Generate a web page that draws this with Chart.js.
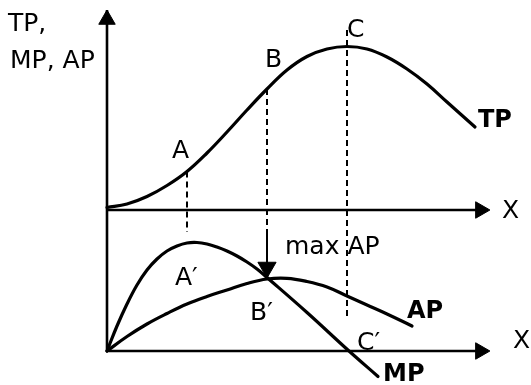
<!DOCTYPE html>
<html>
<head>
<meta charset="utf-8">
<script src="https://cdn.jsdelivr.net/npm/chart.js@4.4.1/dist/chart.umd.min.js"></script>
<style>
  html, body { margin: 0; padding: 0; background: #ffffff; }
  canvas { display: block; }
</style>
</head>
<body>
<canvas id="c" width="531" height="385"></canvas>
<script>
// ---- Data (input quantity on x; TP on upper panel, MP/AP on lower panel) ----
const TP_X = [0, 0.5, 1.0, 1.5, 2.0, 2.5, 3.0, 3.5, 4.0, 4.5, 5.0, 5.5, 6.0, 6.5, 7.0, 7.5, 8.0, 8.5, 9.2];
const TP_Y = [0.25, 0.6, 1.35, 2.45, 3.85, 5.7, 7.8, 10.0, 12.1, 14.0, 15.35, 16.1, 16.35, 16.1, 15.3, 14.1, 12.6, 10.8, 8.3];

const MP_X = [0, 0.25, 0.5, 0.75, 1.0, 1.25, 1.5, 1.75, 2.0, 2.25, 2.5, 2.75, 3.0, 3.25, 3.5, 3.75, 4.0, 5.0, 6.05, 6.775];
const MP_Y = [0, 2.5, 4.7, 6.6, 8.1, 9.2, 10.0, 10.5, 10.8, 10.85, 10.7, 10.4, 10.0, 9.5, 8.9, 8.2, 7.35, 3.85, 0, -2.55];

const AP_X = [0, 0.5, 1.0, 1.5, 2.0, 2.5, 3.0, 3.5, 4.0, 4.5, 5.0, 5.5, 6.0, 6.5, 7.0, 7.625];
const AP_Y = [0, 1.45, 2.7, 3.75, 4.7, 5.45, 6.1, 6.75, 7.2, 7.27, 6.95, 6.4, 5.5, 4.6, 3.7, 2.5];

// key input levels: A (inflection), B (max AP), C (max TP)
const X_A = 2.0, X_B = 4.0, X_C = 6.0;
const AXIS_X_END = 9.575;
const AXIS_Y_TOP = 34.1;

// text labels: [text, x, y, axis, bold]
const LABELS = [
  ["TP,", -2.475, 17.9, "yTP", false],
  ["MP, AP", -2.425, 14.2, "yTP", false],
  ["A", 1.625, 5.2, "yTP", false],
  ["B", 3.95, 14.3, "yTP", false],
  ["C", 6.0, 17.3, "yTP", false],
  ["TP", 9.275, 8.3, "yTP", true],
  ["X", 9.875, -0.8, "yTP", false],
  ["max AP", 4.45, 9.7, "yQ", false],
  ["A\u2032", 1.7, 6.6, "yQ", false],
  ["B\u2032", 3.575, 3.1, "yQ", false],
  ["AP", 7.5, 3.3, "yQ", true],
  ["C\u2032", 6.25, 0.1, "yQ", false],
  ["X", 10.15, 0.3, "yQ", false],
  ["MP", 6.9, -3.0, "yQ", true]
];

const pts = (xs, ys) => xs.map((x, i) => ({ x, y: ys[i] }));

const curve = (data, axis) => ({
  data, yAxisID: axis, showLine: true, borderColor: "#000", borderWidth: 3.2,
  pointRadius: 0, tension: 0.4, fill: false, borderCapStyle: "round", borderJoinStyle: "round"
});
const seg = (data, axis, w, dash) => ({
  data, yAxisID: axis, showLine: true, borderColor: "#000", borderWidth: w,
  borderDash: dash || [], pointRadius: 0, tension: 0, fill: false
});
const head = (x, y, axis, rot, r) => ({
  data: [{ x, y }], yAxisID: axis, showLine: false, pointStyle: "triangle",
  pointRadius: r || 9.5, pointRotation: rot, backgroundColor: "#000", borderColor: "#000",
  borderWidth: 1
});

const tpAt = (x) => TP_Y[TP_X.indexOf(x)];

const datasets = [
  // axes
  seg([{ x: 0, y: 0 }, { x: 0, y: AXIS_Y_TOP }], "yQ", 2.6),
  seg([{ x: 0, y: 0 }, { x: AXIS_X_END - 0.3, y: 0 }], "yTP", 2.6),
  seg([{ x: 0, y: 0 }, { x: AXIS_X_END - 0.3, y: 0 }], "yQ", 2.6),
  head(0, AXIS_Y_TOP - 0.95, "yQ", 0),
  head(AXIS_X_END - 0.24, 0, "yTP", 90),
  head(AXIS_X_END - 0.24, 0, "yQ", 90),
  // dashed guide lines
  seg([{ x: X_A, y: tpAt(X_A) }, { x: X_A, y: -2.2 }], "yTP", 2, [6, 4]),
  seg([{ x: X_B, y: tpAt(X_B) }, { x: X_B, y: -2.0 }], "yTP", 2, [6, 4]),
  seg([{ x: X_B, y: 12.1 }, { x: X_B, y: 8.8 }], "yQ", 2),
  head(X_B, 8.35, "yQ", 180, 10.5),
  seg([{ x: X_C, y: 18.0 }, { x: X_C, y: -10.8 }], "yTP", 2, [6, 4]),
  // curves
  curve(pts(TP_X, TP_Y), "yTP"),
  curve(pts(MP_X, MP_Y), "yQ"),
  curve(pts(AP_X, AP_Y), "yQ")
];

const labelPlugin = {
  id: "labels",
  beforeDraw(chart) {
    const ctx = chart.ctx;
    ctx.save();
    ctx.fillStyle = "#fff";
    ctx.fillRect(0, 0, chart.width, chart.height);
    ctx.restore();
  },
  afterDatasetsDraw(chart) {
    const ctx = chart.ctx;
    const xs = chart.scales.x;
    ctx.save();
    ctx.fillStyle = "#000";
    ctx.textAlign = "left";
    ctx.textBaseline = "alphabetic";
    LABELS.forEach(([t, x, y, ax, bold]) => {
      ctx.font = (bold ? "bold 24px" : "25px") + " 'DejaVu Sans', Verdana, sans-serif";
      ctx.fillText(t, xs.getPixelForValue(x), chart.scales[ax].getPixelForValue(y));
    });
    ctx.restore();
  }
};

new Chart(document.getElementById("c"), {
  type: "scatter",
  data: { datasets },
  options: {
    responsive: false,
    animation: false,
    events: [],
    layout: { padding: 0, autoPadding: false },
    plugins: { legend: { display: false }, tooltip: { enabled: false }, title: { display: false } },
    scales: {
      x: { type: "linear", min: -2.675, max: 10.6, display: false },
      yTP: { type: "linear", position: "left", min: -17.5, max: 21, display: false },
      yQ: { type: "linear", position: "left", min: -3.4, max: 35.1, display: false }
    }
  },
  plugins: [labelPlugin]
});
</script>
</body>
</html>
